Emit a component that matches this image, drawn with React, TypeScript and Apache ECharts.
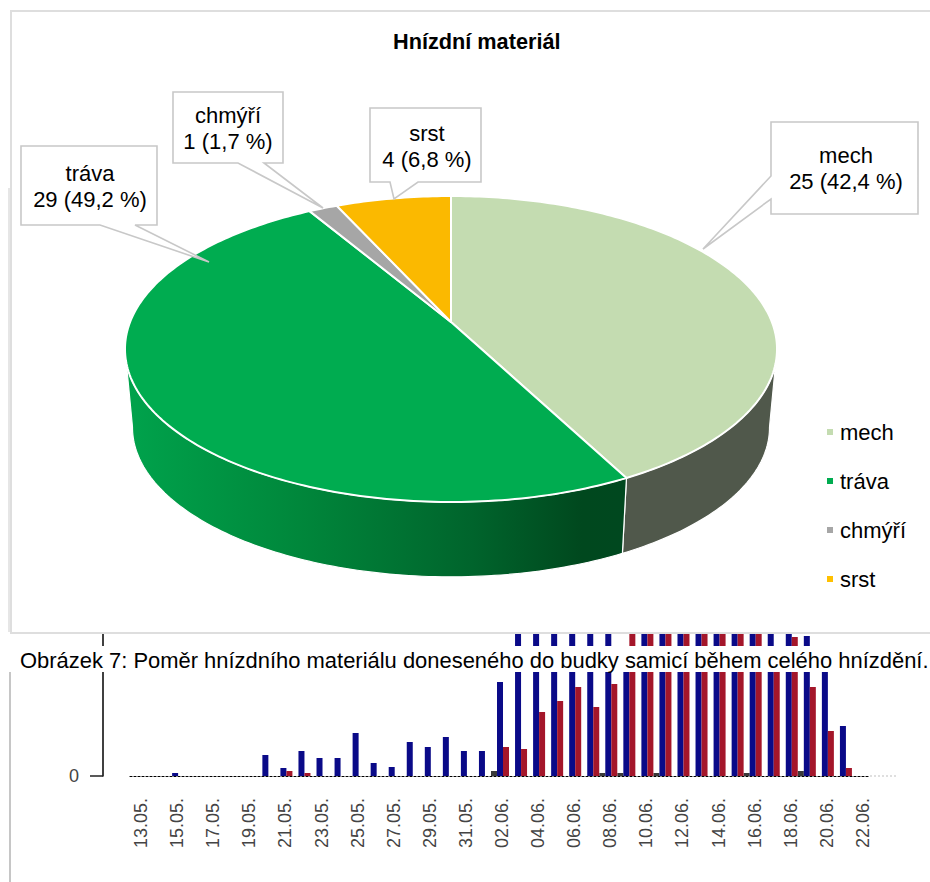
import React, { useEffect, useRef } from "react";
import * as echarts from "echarts";

const FONT = '"Liberation Sans", Arial, sans-serif';

// ---- pie data
const materials = ["mech", "tráva", "chmýří", "srst"];
const counts = [25, 29, 1, 4];
const topColors = ["#c4dcb1", "#00ac50", "#a6a6a6", "#fbb900"];
const legendColors = ["#c4dcb1", "#00ac50", "#a6a6a6", "#ffc000"];

// ---- background bar chart data
const days = [
  "13.05.", "14.05.", "15.05.", "16.05.", "17.05.", "18.05.", "19.05.", "20.05.", "21.05.", "22.05.",
  "23.05.", "24.05.", "25.05.", "26.05.", "27.05.", "28.05.", "29.05.", "30.05.", "31.05.", "01.06.",
  "02.06.", "03.06.", "04.06.", "05.06.", "06.06.", "07.06.", "08.06.", "09.06.", "10.06.", "11.06.",
  "12.06.", "13.06.", "14.06.", "15.06.", "16.06.", "17.06.", "18.06.", "19.06.", "20.06.", "21.06.", "22.06.",
];
const blueValues = [
  0, 0, 3, 0, 0, 0, 0, 21, 8, 25, 18, 18, 43, 13, 9, 34, 29, 39, 25, 25,
  94, 155, 155, 155, 155, 155, 155, 120, 155, 155, 155, 155, 155, 155, 155, 155, 155, 140, 115, 50, 0,
];
const redValues = [
  0, 0, 0, 0, 0, 0, 0, 0, 5, 3, 0, 0, 0, 0, 0, 0, 0, 0, 0, 0,
  29, 27, 64, 75, 89, 69, 92, 155, 155, 155, 155, 155, 155, 155, 155, 120, 139, 89, 45, 8, 0,
];
const darkValues = [
  0, 0, 0, 0, 0, 0, 0, 0, 0, 0, 0, 0, 0, 0, 0, 0, 0, 0, 0, 0,
  5, 0, 0, 0, 0, 0, 3, 3, 0, 3, 0, 0, 0, 0, 3, 0, 0, 5, 0, 0, 0,
];

const title = "Hnízdní materiál";
const caption = "Obrázek 7: Poměr hnízdního materiálu doneseného do budky samicí během celého hnízdění.";

// ---- layout of the drawn pie (a tilted disc seen in perspective)
const CX = 451;
const APEX_Y = 322;
const RX = 320.9;
const PY_B = 91.4;
const PY_C = -0.1765;
const BOTTOM_SCALE = 0.977;
const BOTTOM_SHIFT = 79;
const SIDE_FROM = 100;
const SIDE_TO = 260;

function rim(deg: number): [number, number] {
  const t = (deg * Math.PI) / 180;
  const X = Math.sin(t);
  const Y = -Math.cos(t);
  const w = 1 + PY_C * Y;
  return [CX + (RX * X) / w, (APEX_Y + PY_B * Y) / w];
}
function rimBottom(deg: number): [number, number] {
  const [x, y] = rim(deg);
  return [CX + (x - CX) * BOTTOM_SCALE, APEX_Y + (y - APEX_Y) * BOTTOM_SCALE + BOTTOM_SHIFT];
}
function arcPoints(a0: number, a1: number, fn: (d: number) => [number, number]) {
  const pts: [number, number][] = [];
  const n = Math.max(2, Math.ceil(Math.abs(a1 - a0)));
  for (let k = 0; k <= n; k++) pts.push(fn(a0 + ((a1 - a0) * k) / n));
  return pts;
}

const sideFills: any[] = [
  "#50584b",
  {
    type: "linear", x: 125, y: 0, x2: 622, y2: 0, global: true,
    colorStops: [
      { offset: 0, color: "#00a34c" },
      { offset: 0.35, color: "#00873b" },
      { offset: 0.7, color: "#00642c" },
      { offset: 0.92, color: "#00481e" },
      { offset: 1, color: "#00481f" },
    ],
  },
  "#777777",
  "#a07800",
];

const callouts: { box: [number, number][]; tx: number; ty: number }[] = [
  {
    box: [[771, 122], [918, 122], [918, 214], [771, 214], [771, 199], [703, 249], [771, 176]],
    tx: 846, ty: 168,
  },
  {
    box: [[21, 146], [157, 146], [157, 225], [135, 225], [209, 262], [100, 225], [21, 225]],
    tx: 90, ty: 186,
  },
  {
    box: [[173, 92], [283, 92], [283, 163], [264, 163], [323, 208], [238, 163], [173, 163]],
    tx: 228, ty: 128,
  },
  {
    box: [[370, 108], [481, 108], [481, 182], [418, 182], [394, 199], [390, 182], [370, 182]],
    tx: 427, ty: 146,
  },
];

const total = counts.reduce((a, b) => a + b, 0);

function sliceSeries(i: number) {
  const before = counts.slice(0, i).reduce((a, b) => a + b, 0);
  return {
    type: "custom",
    name: materials[i],
    coordinateSystem: "none",
    z: 5,
    silent: true,
    itemStyle: { color: legendColors[i] },
    data: [{ name: materials[i], value: counts[i] }],
    renderItem: (_params: any, api: any) => {
      const v = api.value(0);
      const a0 = (before / total) * 360;
      const a1 = ((before + v) / total) * 360;
      const children: any[] = [];
      const s0 = Math.max(a0, SIDE_FROM);
      const s1 = Math.min(a1, SIDE_TO);
      if (s1 > s0) {
        children.push({
          type: "polygon",
          shape: { points: [...arcPoints(s0, s1, rim), ...arcPoints(s1, s0, rimBottom)] },
          style: { fill: sideFills[i], stroke: "#ffffff", lineWidth: 1.2 },
        });
      }
      children.push({
        type: "polygon",
        shape: { points: [[CX, APEX_Y], ...arcPoints(a0, a1, rim)] },
        style: { fill: topColors[i], stroke: "#ffffff", lineWidth: 2, lineJoin: "round" },
      });
      return { type: "group", children };
    },
  };
}

function calloutSeries(i: number) {
  return {
    type: "custom",
    coordinateSystem: "none",
    z: 6,
    silent: true,
    data: [{ name: materials[i], value: counts[i] }],
    renderItem: (_params: any, api: any) => {
      const v = api.value(0);
      const pct = ((v / total) * 100).toFixed(1).replace(".", ",");
      const c = callouts[i];
      return {
        type: "group",
        children: [
          {
            type: "polygon",
            shape: { points: c.box },
            style: { fill: "#ffffff", stroke: "#c8c8c8", lineWidth: 1.6 },
          },
          {
            type: "text",
            style: {
              x: c.tx, y: c.ty,
              text: `${materials[i]}\n${v} (${pct} %)`,
              fill: "#000000",
              font: `22px ${FONT}`,
              lineHeight: 26,
              textAlign: "center",
              textVerticalAlign: "middle",
            },
          },
        ],
      };
    },
  };
}

function barSeries(name: string, data: number[], color: string) {
  return {
    type: "bar",
    name: name,
    data,
    barWidth: 6,
    barGap: "0%",
    clip: true,
    z: 1,
    silent: true,
    itemStyle: { color },
  };
}

export default function App() {
  const ref = useRef<HTMLDivElement>(null);
  useEffect(() => {
    const chart = echarts.init(ref.current!, null, { renderer: "svg" });
    chart.setOption({
      animation: false,
      backgroundColor: "#ffffff",
      title: {
        text: title,
        left: 388,
        top: 25,
        textStyle: { fontFamily: FONT, fontSize: 21.7, fontWeight: "bold", color: "#000000" },
        z: 8,
      },
      legend: {
        data: materials,
        orient: "vertical",
        left: 822,
        top: 416,
        icon: "rect",
        itemWidth: 6,
        itemHeight: 6,
        itemGap: 27,
        selectedMode: false,
        textStyle: { fontFamily: FONT, fontSize: 22, color: "#000000", padding: [0, 0, 0, 2] },
        z: 8,
      },
      grid: [
        { left: 130, right: 60, top: 633, bottom: 106 },
        { left: 132, right: 58, top: 633, bottom: 106 },
      ],
      xAxis: [
        {
          type: "category",
          gridIndex: 0,
          data: days,
          axisLine: { lineStyle: { color: "#000000", type: [2, 2], width: 1.2 } },
          axisTick: { show: false },
          axisLabel: { show: false },
        },
        {
          type: "category",
          gridIndex: 1,
          data: days,
          axisLine: { show: false },
          axisTick: { show: false },
          axisLabel: {
            interval: 1,
            rotate: 90,
            margin: 22,
            fontFamily: FONT,
            fontSize: 18,
            color: "#444444",
          },
        },
      ],
      yAxis: [
        {
          type: "value",
          gridIndex: 0,
          min: 0,
          max: 143,
          interval: 143,
          offset: 27,
          splitLine: { show: false },
          axisLine: { show: true, lineStyle: { color: "#000000", width: 1.5 } },
          axisTick: { show: true, length: 13, lineStyle: { color: "#222222", width: 1.5 } },
          axisLabel: {
            margin: 24,
            fontFamily: FONT,
            fontSize: 18,
            color: "#444444",
            formatter: (v: number) => (v === 0 ? "0" : ""),
          },
        },
        { type: "value", gridIndex: 1, min: 0, max: 143, show: false },
      ],
      graphic: [
        {
          type: "rect", z: 2, silent: true,
          shape: { x: 11, y: 11, width: 930, height: 622 },
          style: { fill: "#ffffff", stroke: "#dedede", lineWidth: 2 },
        },
        {
          type: "line", z: 2, silent: true,
          shape: { x1: 9, y1: 188, x2: 9, y2: 632 },
          style: { stroke: "#dedede", lineWidth: 1.5 },
        },
        {
          type: "line", z: 2, silent: true,
          shape: { x1: 10, y1: 672, x2: 10, y2: 882 },
          style: { stroke: "#c6c6c6", lineWidth: 2 },
        },
        {
          type: "line", z: 2, silent: true,
          shape: { x1: 870, y1: 776, x2: 897, y2: 776 },
          style: { stroke: "#c0c0c0", lineWidth: 1.2, lineDash: [2, 2] },
        },
        {
          type: "rect", z: 7, silent: true,
          shape: { x: 10, y: 646, width: 920, height: 26 },
          style: { fill: "#ffffff" },
        },
        {
          type: "text", z: 8, silent: true,
          style: {
            x: 20, y: 660,
            text: caption,
            fill: "#000000",
            font: `21.95px ${FONT}`,
            textAlign: "left",
            textVerticalAlign: "middle",
          },
        },
      ],
      series: [
        barSeries("dark", darkValues, "#3a3a3a"),
        barSeries("blue", blueValues, "#0a0a88"),
        barSeries("red", redValues, "#a4162a"),
        ...materials.map((_, i) => sliceSeries(i)),
        ...materials.map((_, i) => calloutSeries(i)),
      ],
    });
    return () => chart.dispose();
  }, []);
  return (
    <div
      ref={ref}
      style={{ position: "absolute", left: 0, top: 0, width: 930, height: 882 }}
    />
  );
}
